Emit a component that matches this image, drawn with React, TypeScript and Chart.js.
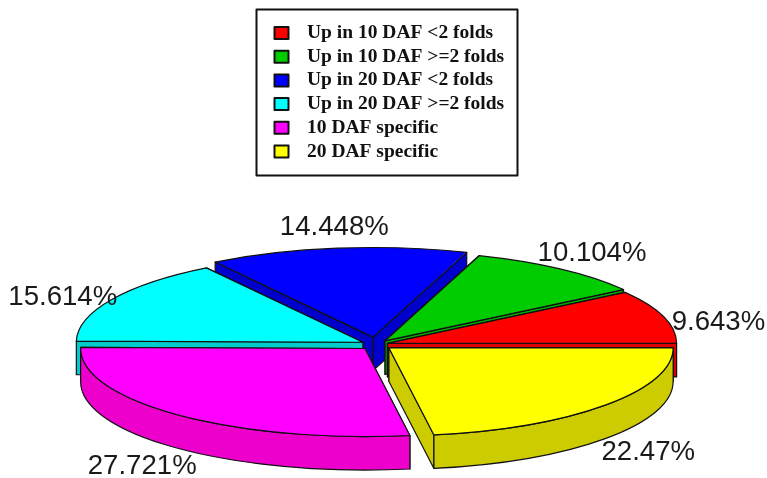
import React, { useEffect, useRef } from "react";
import { Chart, registerables } from "chart.js";

Chart.register(...registerables);

// Legend order; the pie runs counter-clockwise from the east in this order.
const categories = [
  "Up in 10 DAF <2 folds",
  "Up in 10 DAF >=2 folds",
  "Up in 20 DAF <2 folds",
  "Up in 20 DAF >=2 folds",
  "10 DAF specific",
  "20 DAF specific",
];
const shares = [9.643, 10.104, 14.448, 15.614, 27.721, 22.47];
const shareLabels = ["9.643%", "10.104%", "14.448%", "15.614%", "27.721%", "22.47%"];
const topColors = ["#ff0000", "#00cc00", "#0000ff", "#00ffff", "#ff00ff", "#ffff00"];
const wallColors = ["#dd0000", "#00aa00", "#0000cc", "#00cccc", "#ee00cc", "#cccc00"];

// Distance each slice is pulled out of the pie, in pixels on the unflattened circle.
const pullOut = [12, 15, 24, 15, 17, 17];
// Shift of each percentage from the slice's rim point.
const labelShift = [
  [55, 6],
  [32, -16],
  [-3, -21],
  [-49, -2],
  [-37, 51],
  [43, 47],
];

const TILT = 0.31;
const DEPTH = 33.5;
const BASE_RADIUS = 284;
const INK = "#111111";

const rev = <T,>(list: T[]): T[] => [...list].reverse();

// ArcElement moves a slice by offset/4 and grows its radius by that distance times this factor.
const radiusGrowth = (circumference: number) =>
  1 - Math.sin(Math.min(Math.PI, circumference));

const arcOffsets = pullOut.map((distance) => distance * 4);

type Wedge = { ax: number; ay: number; r: number; a0: number; a1: number; index: number };

// Projects each arc onto the tilted plane, using the element geometry from Chart.js.
function wedges(chart: any): Wedge[] {
  const arcs = chart.getDatasetMeta(0).data;
  const cy = arcs[0].y;
  return arcs.map((arc: any, i: number) => {
    const shift = (arc.options.offset || 0) / 4;
    const mid = (arc.startAngle + arc.endAngle) / 2;
    const py = arc.y + Math.sin(mid) * shift;
    return {
      ax: arc.x + Math.cos(mid) * shift,
      ay: cy + (py - cy) * TILT,
      r: arc.outerRadius + shift * radiusGrowth(arc.circumference),
      a0: arc.startAngle,
      a1: arc.endAngle,
      index: categories.length - 1 - i,
    };
  });
}

const rimX = (w: Wedge, a: number) => w.ax + Math.cos(a) * w.r;
const rimY = (w: Wedge, a: number) => w.ay + Math.sin(a) * w.r * TILT;

function paintPath(ctx: CanvasRenderingContext2D, fill: string) {
  ctx.fillStyle = fill;
  ctx.fill();
  ctx.stroke();
}

const pie3d = {
  id: "pie3d",
  beforeDatasetsDraw(chart: any) {
    const { ctx } = chart;
    const list = wedges(chart).sort(
      (a, b) => Math.sin((a.a0 + a.a1) / 2) - Math.sin((b.a0 + b.a1) / 2),
    );
    ctx.save();
    ctx.strokeStyle = INK;
    ctx.lineWidth = 1.2;
    ctx.lineJoin = "round";
    for (const w of list) {
      const fill = wallColors[w.index];
      // Radial cut faces, the one further back first.
      const cuts = [w.a0, w.a1].sort((p, q) => rimY(w, p) - rimY(w, q));
      for (const a of cuts) {
        ctx.beginPath();
        ctx.moveTo(w.ax, w.ay);
        ctx.lineTo(rimX(w, a), rimY(w, a));
        ctx.lineTo(rimX(w, a), rimY(w, a) + DEPTH);
        ctx.lineTo(w.ax, w.ay + DEPTH);
        ctx.closePath();
        paintPath(ctx, fill);
      }
      // Curved outer face, only where it turns toward the viewer.
      const from = Math.max(w.a0, 0);
      const to = Math.min(w.a1, Math.PI);
      if (to > from) {
        ctx.beginPath();
        ctx.ellipse(w.ax, w.ay, w.r, w.r * TILT, 0, from, to);
        ctx.lineTo(rimX(w, to), rimY(w, to) + DEPTH);
        ctx.ellipse(w.ax, w.ay + DEPTH, w.r, w.r * TILT, 0, to, from, true);
        ctx.closePath();
        paintPath(ctx, fill);
      }
    }
    ctx.restore();

    // Flatten the slices Chart.js is about to draw.
    const cy = chart.getDatasetMeta(0).data[0].y;
    ctx.save();
    ctx.translate(0, cy);
    ctx.scale(1, TILT);
    ctx.translate(0, -cy);
  },
  afterDatasetsDraw(chart: any) {
    const { ctx } = chart;
    ctx.restore();

    const list = wedges(chart);
    ctx.save();
    ctx.strokeStyle = INK;
    ctx.lineWidth = 1.2;
    ctx.lineJoin = "round";
    for (const w of list) {
      ctx.beginPath();
      ctx.moveTo(w.ax, w.ay);
      ctx.ellipse(w.ax, w.ay, w.r, w.r * TILT, 0, w.a0, w.a1);
      ctx.closePath();
      ctx.stroke();
    }

    // Percentages.
    ctx.fillStyle = "#1a1a1a";
    ctx.font = '27.6px "Liberation Sans"';
    ctx.textAlign = "center";
    ctx.textBaseline = "middle";
    for (const w of list) {
      const mid = (w.a0 + w.a1) / 2;
      const [dx, dy] = labelShift[w.index];
      ctx.fillText(shareLabels[w.index], rimX(w, mid) + dx, rimY(w, mid) + dy);
    }

    // Framed key above the pie.
    ctx.strokeStyle = "#111111";
    ctx.lineWidth = 2;
    ctx.strokeRect(256.5, 9.5, 261, 166);
    ctx.font = 'bold 19.5px "Liberation Serif"';
    ctx.textAlign = "left";
    categories.forEach((name, i) => {
      const y = 33 + i * 23.7;
      ctx.fillStyle = topColors[i];
      ctx.fillRect(274.5, y - 6, 14, 12);
      ctx.strokeRect(274.5, y - 6, 14, 12);
      ctx.fillStyle = "#111111";
      ctx.fillText(name, 307, y);
    });
    ctx.restore();
  },
};

export default function App() {
  const canvasRef = useRef<HTMLCanvasElement | null>(null);

  useEffect(() => {
    const chart = new Chart(canvasRef.current as HTMLCanvasElement, {
      type: "pie",
      data: {
        labels: rev(categories),
        datasets: [
          {
            data: rev(shares),
            backgroundColor: rev(topColors),
            offset: rev(arcOffsets),
            borderWidth: 0,
            radius: BASE_RADIUS,
            clip: false,
          } as any,
        ],
      },
      options: {
        responsive: false,
        animation: false,
        rotation: 90,
        cutout: "0%",
        layout: { padding: { top: 211, right: 15, bottom: 0, left: 0 } },
        plugins: { legend: { display: false }, tooltip: { enabled: false } },
      } as any,
      plugins: [pie3d],
    });
    return () => chart.destroy();
  }, []);

  return (
    <div style={{ position: "absolute", left: 0, top: 0, width: 767, height: 478, background: "#fff" }}>
      <canvas ref={canvasRef} width={767} height={478} style={{ display: "block" }} />
    </div>
  );
}
